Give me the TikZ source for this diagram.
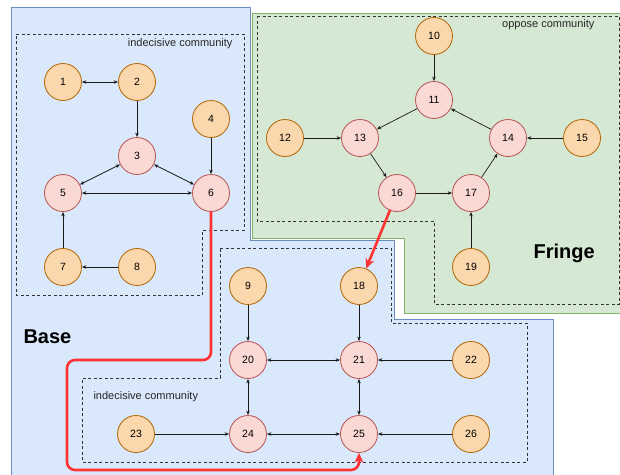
\documentclass[tikz,border=0pt]{standalone}
\usepackage{fontspec}
\setmainfont{Liberation Sans}
\usetikzlibrary{arrows.meta}
\definecolor{baseFill}{HTML}{DAE8FC}
\definecolor{baseLine}{HTML}{6C8EBF}
\definecolor{fringeFill}{HTML}{D5E8D4}
\definecolor{fringeLine}{HTML}{82B366}
\definecolor{orangeFill}{HTML}{FAD7AC}
\definecolor{orangeLine}{HTML}{B46504}
\definecolor{redFill}{HTML}{FAD9D5}
\definecolor{redLine}{HTML}{B85450}
\definecolor{hotRed}{HTML}{FF3333}
\definecolor{edgeGrey}{HTML}{1A1A1A}
\begin{document}
\begin{tikzpicture}[x=1pt,y=-1pt,
  region/.style={line width=0.8pt},
  community/.style={draw=black!80, dashed, dash pattern=on 3pt off 2.5pt, line width=0.7pt},
  vertex/.style={circle, minimum size=37pt, inner sep=0pt, line width=0.8pt,
    font=\fontsize{10.5}{12}\selectfont},
  neutral/.style={vertex, draw=orangeLine, fill=orangeFill},
  core/.style={vertex, draw=redLine, fill=redFill},
  link/.style={draw=edgeGrey, line width=0.7pt, -{Stealth[length=4.5pt,width=3.5pt]}},
  mutual/.style={draw=edgeGrey, line width=0.7pt,
    {Stealth[length=4.5pt,width=3.5pt]}-{Stealth[length=4.5pt,width=3.5pt]}},
  bridge/.style={draw=hotRed, line width=2.6pt, line cap=round,
    -{Stealth[length=10pt,width=9pt]}},
  tag/.style={font=\fontsize{11}{13}\selectfont, text=black!85},
  title/.style={font=\fontsize{20}{24}\selectfont\bfseries}
]
\useasboundingbox (0,0) rectangle (620,474);

% regions
\filldraw[region, fill=baseFill, draw=baseLine]
  (11,7) -- (250,7) -- (250,240) -- (394,240) -- (394,319) -- (553,319)
  -- (553,480) -- (11,480) -- cycle;
\filldraw[region, fill=fringeFill, draw=fringeLine]
  (252,13) -- (630,13) -- (630,313) -- (404,313) -- (404,238) -- (252,238) -- cycle;

% communities
\draw[community] (16,34) -- (244,34) -- (244,230) -- (202,230) -- (202,295) -- (16,295) -- cycle;
\draw[community] (257,16) -- (619,16) -- (619,304) -- (434,304) -- (434,221) -- (257,221) -- cycle;
\draw[community] (220,248) -- (391,248) -- (391,323) -- (527,323) -- (527,462)
  -- (82,462) -- (82,378) -- (220,378) -- cycle;

\node[tag, anchor=east] (tagA) at (236,44) {indecisive community};
\node[tag, anchor=east] (tagB) at (598,25) {oppose community};
\node[tag, anchor=west] (tagC) at (90,397) {indecisive community};
\node[title, anchor=west] (baseTitle) at (20,337) {Base};
\node[title, anchor=west] (fringeTitle) at (530,253) {Fringe};

% vertices
\node[neutral] (n1) at (63,82) {1};
\node[neutral] (n2) at (137,82) {2};
\node[core] (n3) at (137,156) {3};
\node[neutral] (n4) at (211,119) {4};
\node[core] (n5) at (63,193) {5};
\node[core] (n6) at (211,193) {6};
\node[neutral] (n7) at (63,267) {7};
\node[neutral] (n8) at (137,267) {8};
\node[neutral] (n9) at (248,286) {9};
\node[neutral] (n10) at (434,36) {10};
\node[core] (n11) at (434,100) {11};
\node[neutral] (n12) at (285,138) {12};
\node[core] (n13) at (360,138) {13};
\node[core] (n14) at (508,138) {14};
\node[neutral] (n15) at (582,138) {15};
\node[core] (n16) at (397,193) {16};
\node[core] (n17) at (471,193) {17};
\node[neutral] (n18) at (359,286) {18};
\node[neutral] (n19) at (471,267) {19};
\node[core] (n20) at (248,360) {20};
\node[core] (n21) at (359,360) {21};
\node[neutral] (n22) at (471,360) {22};
\node[neutral] (n23) at (136,434) {23};
\node[core] (n24) at (248,434) {24};
\node[core] (n25) at (359,434) {25};
\node[neutral] (n26) at (471,434) {26};

% connectors
\draw[mutual] (n1) -- (n2);
\draw[link] (n2) -- (n3);
\draw[link] (n4) -- (n6);
\draw[mutual] (n3) -- (n5);
\draw[mutual] (n3) -- (n6);
\draw[mutual] (n5) -- (n6);
\draw[link] (n7) -- (n5);
\draw[link] (n8) -- (n7);

\draw[link] (n10) -- (n11);
\draw[link] (n11) -- (n13);
\draw[link] (n12) -- (n13);
\draw[link] (n13) -- (n16);
\draw[link] (n16) -- (n17);
\draw[link] (n17) -- (n14);
\draw[link] (n14) -- (n11);
\draw[link] (n15) -- (n14);
\draw[link] (n19) -- (n17);

\draw[link] (n9) -- (n20);
\draw[link] (n18) -- (n21);
\draw[mutual] (n20) -- (n21);
\draw[link] (n22) -- (n21);
\draw[mutual] (n20) -- (n24);
\draw[mutual] (n21) -- (n25);
\draw[link] (n23) -- (n24);
\draw[mutual] (n24) -- (n25);
\draw[link] (n26) -- (n25);

% influence paths
\draw[bridge] (n16) -- (n18);
\draw[bridge, rounded corners=8pt] (n6.south) -- (211,360) -- (67,360) -- (67,470)
  -- (359,470) -- (n25.south);
\end{tikzpicture}
\end{document}
